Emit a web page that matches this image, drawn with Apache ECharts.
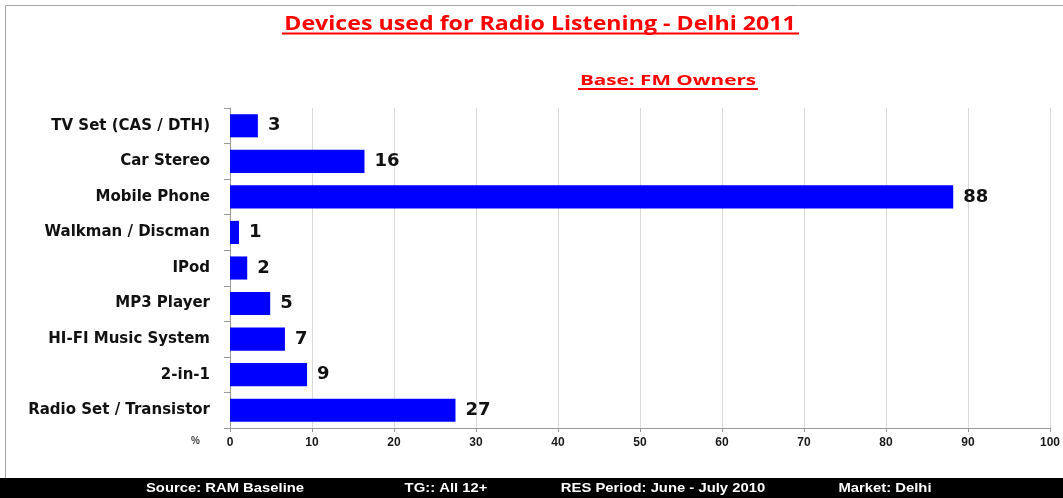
<!DOCTYPE html>
<html><head><meta charset="utf-8">
<script src="https://cdn.jsdelivr.net/npm/echarts@6/dist/echarts.min.js"></script>
<style>html,body{margin:0;padding:0;background:#fff}#c{width:1063px;height:498px}</style>
</head><body><div id="c"></div>
<script>
const categories = ['Radio Set / Transistor','2-in-1','HI-FI Music System','MP3 Player','IPod','Walkman / Discman','Mobile Phone','Car Stereo','TV Set (CAS / DTH)'];
const values = [27.5, 9.4, 6.7, 4.9, 2.1, 1.1, 88.2, 16.4, 3.4];
const labels = [27, 9, 7, 5, 2, 1, 88, 16, 3];
const titleText = 'Devices used for Radio Listening - Delhi 2011';
const subtitleText = 'Base: FM Owners';
const footerTexts = ['Source: RAM Baseline','TG:: All 12+','RES Period: June - July 2010','Market: Delhi'];
const footerX = [225, 446, 663, 885];

const chart = echarts.init(document.getElementById('c'), null, {renderer:'canvas'});
const narrow = '"Liberation Sans Narrow", "Liberation Sans", Arial, sans-serif';
const wide = '"DejaVu Sans", Verdana, sans-serif';
chart.setOption({
  backgroundColor:'#fff',
  animation:false,
  grid:{left:230, right:10, top:108, bottom:70, containLabel:false},
  xAxis:{type:'value', min:0, max:100, interval:10,
    axisLine:{show:true, lineStyle:{color:'#999'}},
    axisTick:{show:true, length:4, lineStyle:{color:'#999'}},
    splitLine:{show:true, lineStyle:{color:'#d9d9d9'}},
    axisLabel:{color:'#1a1a1a', fontFamily:narrow, fontWeight:'bold', fontSize:12, margin:9}
  },
  yAxis:{type:'category', data:categories,
    axisLine:{show:true, lineStyle:{color:'#999'}},
    axisTick:{show:true, length:6, lineStyle:{color:'#999'}},
    axisLabel:{color:'#111', fontFamily:wide, fontWeight:'bold', fontSize:15, margin:20}
  },
  series:[{type:'bar', data:values, barCategoryGap:'35%',
    itemStyle:{color:'#0000ff'},
    label:{show:true, position:'right', distance:10, color:'#111', fontFamily:wide, fontWeight:'bold', fontSize:18,
      formatter:p=>labels[p.dataIndex]}
  }],
  graphic:[
    {type:'rect', shape:{x:5.5, y:5.5, width:1070, height:480}, style:{fill:'none', stroke:'#a6a6a6', lineWidth:1}},
    {type:'text', x:540, y:25, scaleX:1.22, style:{text:titleText, fill:'#ff0000', font:'bold 19px "Open Sans", "Liberation Sans", sans-serif', textAlign:'center', textVerticalAlign:'middle'}},
    {type:'rect', shape:{x:282, y:32.5, width:517, height:2}, style:{fill:'#ff0000'}},
    {type:'text', x:668, y:81, scaleX:1.38, style:{text:subtitleText, fill:'#ff0000', font:'bold 15px "Open Sans", "Liberation Sans", sans-serif', textAlign:'center', textVerticalAlign:'middle'}},
    {type:'rect', shape:{x:578, y:88, width:180, height:2}, style:{fill:'#ff0000'}},
    {type:'text', x:191, y:436, style:{text:'%', fill:'#444', font:'bold 10px ' + narrow}},
    {type:'rect', shape:{x:0, y:478, width:1063, height:20}, style:{fill:'#000'}},
    ...footerTexts.map((t,i)=>({type:'text', x:footerX[i], y:488, scaleX:1.14, style:{text:t, fill:'#fff', font:'bold 13px ' + narrow, textAlign:'center', textVerticalAlign:'middle'}}))
  ]
});
</script></body></html>
